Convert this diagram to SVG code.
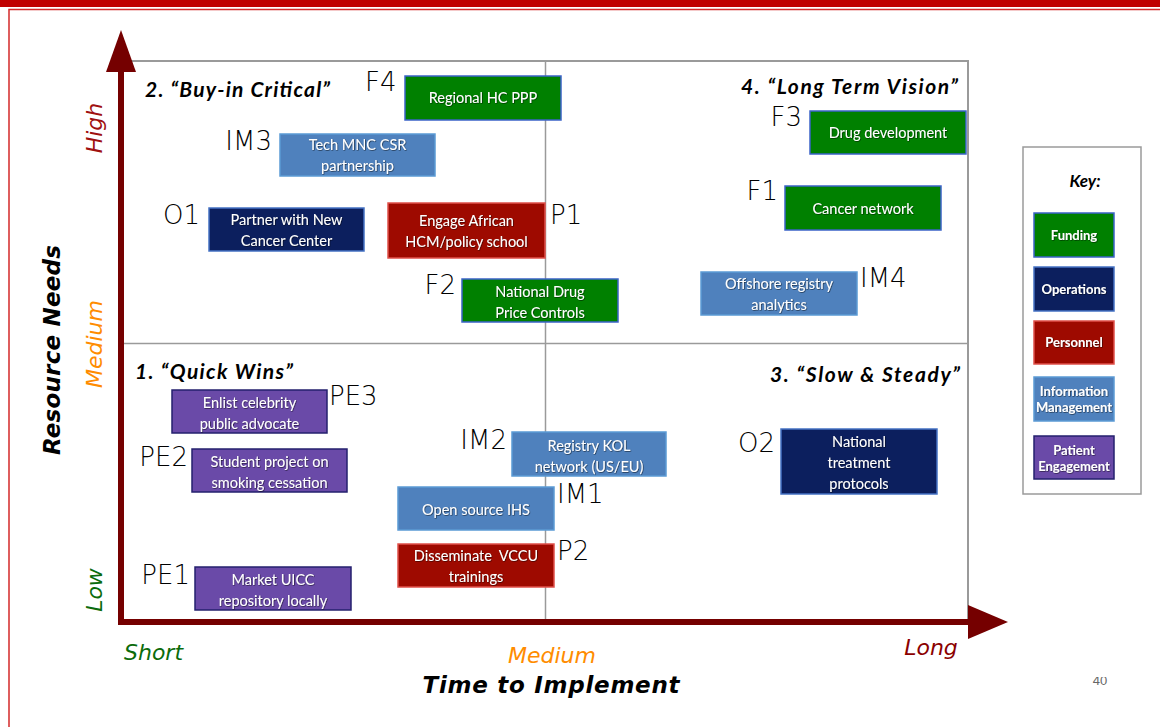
<svg xmlns="http://www.w3.org/2000/svg" width="1160" height="727" viewBox="0 0 1160 727">
<style>
.box{stroke-width:1.5}
.fund{fill:#008000;stroke:#3b63c8}
.ops{fill:#0c1f5e;stroke:#4472c4}
.per{fill:#9e0a00;stroke:#e0504a}
.info{fill:#4f81bd;stroke:#5b9bd5}
.pat{fill:#6a4aa8;stroke:#24206e}
.bt{font-family:Lato,"Open Sans",sans-serif;font-size:14.5px;fill:#fff;text-anchor:middle}
.lbl{font-family:"DejaVu Sans",sans-serif;font-weight:300;font-size:26px;fill:#000}
.qt{font-family:Lato,"Liberation Sans",sans-serif;font-weight:bold;font-style:italic;font-size:21px;fill:#000}
.ax{font-family:"DejaVu Sans",sans-serif;font-style:italic;font-size:22px}
.kt{font-family:Lato,"Liberation Sans",sans-serif;font-weight:bold;font-size:13px;fill:#fff;text-anchor:middle}
</style>
<defs>
<filter id="sh" x="-10%" y="-30%" width="120%" height="160%">
<feDropShadow dx="0.6" dy="0.6" stdDeviation="0.6" flood-color="#000" flood-opacity="0.7"/>
</filter>
<clipPath id="pg"><rect x="1080" y="677" width="60" height="20"/></clipPath>
</defs>
<rect x="0" y="0" width="1160" height="727" fill="#fff"/>
<rect x="0" y="0" width="1160" height="7" fill="#c00000"/>
<rect x="9" y="9.5" width="1160" height="730" fill="none" stroke="#d42a2a" stroke-width="1.5"/>

<g id="frame">
<rect x="120" y="61" width="848" height="561" fill="none" stroke="#9a9a9a" stroke-width="2"/>
<line x1="545.5" y1="61" x2="545.5" y2="622" stroke="#9a9a9a" stroke-width="1.5"/>
<line x1="120" y1="343.5" x2="968" y2="343.5" stroke="#9a9a9a" stroke-width="1.5"/>
</g>

<g id="connectors">
<line x1="121" y1="66" x2="121" y2="625" stroke="#750000" stroke-width="6"/>
<polygon points="121,30 106,72 136,72" fill="#750000"/>
<line x1="118" y1="622" x2="972" y2="622" stroke="#750000" stroke-width="6"/>
<polygon points="1008,622 968,605 968,639" fill="#750000"/>
</g>

<g id="axis-labels">
<text class="ax" x="124" y="660" fill="#0b6b0b" font-size="23">Short</text>
<text class="ax" x="552" y="663" fill="#ff8c00" text-anchor="middle">Medium</text>
<text class="ax" x="931" y="655" fill="#8b0000" text-anchor="middle">Long</text>
<text x="551" y="693" font-family="DejaVu Sans,sans-serif" font-weight="bold" font-style="italic" font-size="23" text-anchor="middle" fill="#000" textLength="257">Time to Implement</text>
<text transform="translate(60,350) rotate(-90)" font-family="DejaVu Sans,sans-serif" font-weight="bold" font-style="italic" font-size="23" text-anchor="middle" fill="#000" textLength="210">Resource Needs</text>
<text class="ax" transform="translate(102,128) rotate(-90)" fill="#a01010" text-anchor="middle">High</text>
<text class="ax" transform="translate(102,344) rotate(-90)" fill="#ff8c00" text-anchor="middle">Medium</text>
<text class="ax" transform="translate(102,590) rotate(-90)" fill="#0b6b0b" text-anchor="middle">Low</text>
</g>

<g id="quadrants">
<text class="qt" x="145" y="97" textLength="185">2. “Buy-in Critical”</text>
<text class="qt" x="741" y="94" textLength="217">4. “Long Term Vision”</text>
<text class="qt" x="135" y="379" textLength="158">1. “Quick Wins”</text>
<text class="qt" x="770" y="382" textLength="190">3. “Slow &amp; Steady”</text>
</g>

<g id="F4"><rect class="box fund" x="405" y="76" width="156" height="44"/><text class="bt" filter="url(#sh)" x="483" y="103">Regional HC PPP</text><text class="lbl" x="365" y="91">F4</text></g>
<g id="IM3"><rect class="box info" x="280" y="134" width="155" height="42"/><text class="bt" filter="url(#sh)" x="357.5" y="150">Tech MNC CSR</text><text class="bt" filter="url(#sh)" x="357.5" y="171">partnership</text><text class="lbl" x="272" y="150" text-anchor="end">IM3</text></g>
<g id="O1"><rect class="box ops" x="209" y="208" width="155" height="43"/><text class="bt" filter="url(#sh)" x="286.5" y="225">Partner with New</text><text class="bt" filter="url(#sh)" x="286.5" y="246">Cancer Center</text><text class="lbl" x="163" y="224">O1</text></g>
<g id="P1"><rect class="box per" x="388" y="203" width="157" height="55"/><text class="bt" filter="url(#sh)" x="466.5" y="226">Engage African</text><text class="bt" filter="url(#sh)" x="466.5" y="247">HCM/policy school</text><text class="lbl" x="550" y="224">P1</text></g>
<g id="F2"><rect class="box fund" x="462" y="279" width="156" height="43"/><text class="bt" filter="url(#sh)" x="540" y="297">National Drug</text><text class="bt" filter="url(#sh)" x="540" y="318">Price Controls</text><text class="lbl" x="456" y="294" text-anchor="end">F2</text></g>
<g id="F3"><rect class="box fund" x="810" y="111" width="156" height="43"/><text class="bt" filter="url(#sh)" x="888" y="138">Drug development</text><text class="lbl" x="802" y="126" text-anchor="end">F3</text></g>
<g id="F1"><rect class="box fund" x="785" y="186" width="156" height="44"/><text class="bt" filter="url(#sh)" x="863" y="214">Cancer network</text><text class="lbl" x="778" y="200" text-anchor="end">F1</text></g>
<g id="IM4"><rect class="box info" x="701" y="272" width="156" height="43"/><text class="bt" filter="url(#sh)" x="779" y="289">Offshore registry</text><text class="bt" filter="url(#sh)" x="779" y="310">analytics</text><text class="lbl" x="860" y="287">IM4</text></g>
<g id="PE3"><rect class="box pat" x="172" y="390" width="155" height="43"/><text class="bt" filter="url(#sh)" x="249.5" y="408">Enlist celebrity</text><text class="bt" filter="url(#sh)" x="249.5" y="429">public advocate</text><text class="lbl" x="329" y="405">PE3</text></g>
<g id="PE2"><rect class="box pat" x="192" y="449" width="155" height="43"/><text class="bt" filter="url(#sh)" x="269.5" y="467">Student project on</text><text class="bt" filter="url(#sh)" x="269.5" y="488">smoking cessation</text><text class="lbl" x="188" y="466" text-anchor="end">PE2</text></g>
<g id="IM2"><rect class="box info" x="512" y="432" width="154" height="44"/><text class="bt" filter="url(#sh)" x="589" y="451">Registry KOL</text><text class="bt" filter="url(#sh)" x="589" y="472">network (US/EU)</text><text class="lbl" x="507" y="449" text-anchor="end">IM2</text></g>
<g id="IM1"><rect class="box info" x="398" y="487" width="156" height="43"/><text class="bt" filter="url(#sh)" x="476" y="515">Open source IHS</text><text class="lbl" x="557" y="503">IM1</text></g>
<g id="P2"><rect class="box per" x="398" y="544" width="156" height="43"/><text class="bt" filter="url(#sh)" x="476" y="561" xml:space="preserve">Disseminate  VCCU</text><text class="bt" filter="url(#sh)" x="476" y="582">trainings</text><text class="lbl" x="557" y="560">P2</text></g>
<g id="PE1"><rect class="box pat" x="195" y="567" width="156" height="43"/><text class="bt" filter="url(#sh)" x="273" y="585">Market UICC</text><text class="bt" filter="url(#sh)" x="273" y="606">repository locally</text><text class="lbl" x="190" y="584" text-anchor="end">PE1</text></g>
<g id="O2"><rect class="box ops" x="781" y="429" width="156" height="65"/><text class="bt" filter="url(#sh)" x="859" y="447">National</text><text class="bt" filter="url(#sh)" x="859" y="468">treatment</text><text class="bt" filter="url(#sh)" x="859" y="489">protocols</text><text class="lbl" x="775" y="452" text-anchor="end">O2</text></g>

<g id="legend">
<rect x="1023" y="147" width="118" height="347" fill="#fff" stroke="#9a9a9a" stroke-width="1.5"/>
<text x="1085" y="187" font-family="Lato,'Liberation Sans',sans-serif" font-weight="bold" font-style="italic" font-size="17" text-anchor="middle" fill="#000">Key:</text>
<g id="key-funding"><rect class="box fund" x="1034" y="213" width="80" height="44"/><text class="kt" filter="url(#sh)" x="1074" y="240">Funding</text></g>
<g id="key-operations"><rect class="box ops" x="1034" y="267" width="80" height="44"/><text class="kt" filter="url(#sh)" x="1074" y="294">Operations</text></g>
<g id="key-personnel"><rect class="box per" x="1034" y="321" width="80" height="43"/><text class="kt" filter="url(#sh)" x="1074" y="347">Personnel</text></g>
<g id="key-info"><rect class="box info" x="1034" y="377" width="80" height="44"/><text class="kt" filter="url(#sh)" x="1074" y="396">Information</text><text class="kt" filter="url(#sh)" x="1074" y="412">Management</text></g>
<g id="key-patient"><rect class="box pat" x="1034" y="436" width="80" height="43"/><text class="kt" filter="url(#sh)" x="1074" y="455">Patient</text><text class="kt" filter="url(#sh)" x="1074" y="471">Engagement</text></g>
</g>

<text x="1100" y="685" font-family="Liberation Sans,sans-serif" font-size="13" fill="#666" text-anchor="middle" clip-path="url(#pg)">40</text>
</svg>
